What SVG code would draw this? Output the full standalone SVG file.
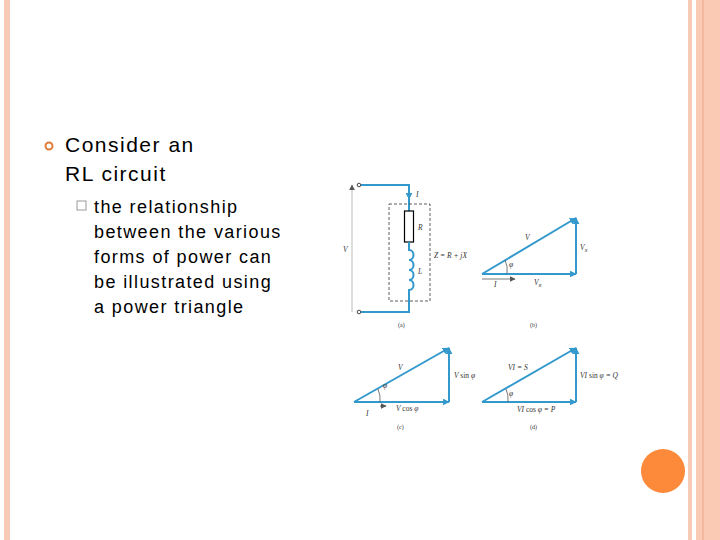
<svg xmlns="http://www.w3.org/2000/svg" width="720" height="540" viewBox="0 0 720 540">
<defs>
<marker id="ah" viewBox="0 0 10 10" refX="9" refY="5" markerWidth="7" markerHeight="7" markerUnits="userSpaceOnUse" orient="auto"><path d="M0,0 L10,5 L0,10 z" fill="#3399cc"/></marker>
<marker id="ag" viewBox="0 0 10 10" refX="9" refY="5" markerWidth="6" markerHeight="6" markerUnits="userSpaceOnUse" orient="auto"><path d="M0,0 L10,5 L0,10 z" fill="#555"/></marker>
</defs>
<style>
.b{stroke:#3399cc;stroke-width:2;fill:none}
.t{font-family:"Liberation Sans",Arial,sans-serif;fill:#000}
.m{font-family:"Liberation Serif",serif;font-style:italic;font-size:7.5px;fill:#333}
.c{font-family:"Liberation Serif",serif;font-size:6px;fill:#333}
</style>
<rect width="720" height="540" fill="#fff"/>
<rect x="4" y="0" width="6" height="540" fill="#f8c9b6"/>
<rect x="688" y="0" width="4" height="540" fill="#f8c9b6"/>
<rect x="696" y="0" width="24" height="540" fill="#fbcab5"/>
<rect x="702" y="0" width="2" height="540" fill="#f3b79e"/>
<circle cx="663" cy="471" r="22" fill="#fd8a3a"/>
<g id="text">
<circle cx="49" cy="146" r="3.5" fill="none" stroke="#e07b39" stroke-width="2"/>
<text class="t" x="65" y="152" font-size="21" letter-spacing="1.5">Consider an</text>
<text class="t" x="65" y="181" font-size="21" letter-spacing="1.5">RL circuit</text>
<rect x="77" y="201" width="9" height="9" fill="none" stroke="#999" stroke-width="1"/>
<text class="t" x="94" y="213" font-size="18" letter-spacing="1.4"><tspan x="94">  the relationship</tspan><tspan x="94" y="238">between the various</tspan><tspan x="94" y="263">forms of power can</tspan><tspan x="94" y="288">be illustrated using</tspan><tspan x="94" y="313">a power triangle</tspan></text>
</g>
<g id="circuit">
<line x1="352" y1="312" x2="352" y2="185" stroke="#bbb" stroke-width="1" marker-end="url(#ag)"/>
<path class="b" d="M361,185 H409 V211"/>
<line class="b" x1="409" y1="185" x2="409" y2="199" marker-end="url(#ah)"/>
<rect x="404.5" y="211" width="9" height="31" fill="#fff" stroke="#000" stroke-width="1.2"/>
<path class="b" d="M409,242 V250 c6,0 6,10 0,10 c6,0 6,10 0,10 c6,0 6,10 0,10 c6,0 6,10 0,10 V312 H361"/>
<circle cx="359" cy="185" r="1.8" fill="#fff" stroke="#444"/>
<circle cx="359" cy="312" r="1.8" fill="#fff" stroke="#444"/>
<rect x="389" y="204" width="41" height="97" fill="none" stroke="#333" stroke-width="0.8" stroke-dasharray="3,2"/>
<text class="m" x="343" y="252">V</text>
<text class="m" x="416" y="197">I</text>
<text class="m" x="418" y="230">R</text>
<text class="m" x="418" y="274">L</text>
<text class="m" x="434" y="258">Z = R + jX</text>
<text class="c" x="398" y="327">(a)</text>
</g>
<g id="connectors">
<line class="b" x1="482" y1="274" x2="576" y2="218" marker-end="url(#ah)"/>
<line class="b" x1="482" y1="274" x2="576" y2="274" marker-end="url(#ah)"/>
<line class="b" x1="576" y1="274" x2="576" y2="218" marker-end="url(#ah)"/>
<line x1="482" y1="279" x2="515" y2="279" stroke="#555" stroke-width="0.8" marker-end="url(#ag)"/>
<path d="M505,260 A24,24 0 0 1 507,274" fill="none" stroke="#555" stroke-width="0.8"/>
<line class="b" x1="354" y1="402" x2="449" y2="348" marker-end="url(#ah)"/>
<line class="b" x1="354" y1="402" x2="449" y2="402" marker-end="url(#ah)"/>
<line class="b" x1="449" y1="402" x2="449" y2="348" marker-end="url(#ah)"/>
<path d="M378,389 A26,26 0 0 1 380,402" fill="none" stroke="#555" stroke-width="0.8"/>
<line x1="380" y1="406" x2="386" y2="406" stroke="#333" stroke-width="0.8" marker-end="url(#ag)"/>
<line class="b" x1="482" y1="402" x2="576" y2="348" marker-end="url(#ah)"/>
<line class="b" x1="482" y1="402" x2="576" y2="402" marker-end="url(#ah)"/>
<line class="b" x1="576" y1="402" x2="576" y2="348" marker-end="url(#ah)"/>
<path d="M506,389 A26,26 0 0 1 508,402" fill="none" stroke="#555" stroke-width="0.8"/>
</g>
<g id="triangle-b">
<text class="m" x="525" y="240">V</text>
<text class="m" x="580" y="250">V<tspan font-size="5" dy="2">X</tspan></text>
<text class="m" x="534" y="285">V<tspan font-size="5" dy="2">R</tspan></text>
<text class="m" x="494" y="287">I</text>
<text class="m" x="509" y="267">φ</text>
<text class="c" x="530" y="327">(b)</text>
</g>
<g id="triangle-c">
<text class="m" x="398" y="370">V</text>
<text class="m" x="454" y="378">V <tspan font-style="normal">sin</tspan> φ</text>
<text class="m" x="383" y="388">φ</text>
<text class="m" x="366" y="416">I</text>
<text class="m" x="396" y="411">V <tspan font-style="normal">cos</tspan> φ</text>
<text class="c" x="397" y="429">(c)</text>
</g>
<g id="triangle-d">
<text class="m" x="508" y="370">VI = S</text>
<text class="m" x="580" y="378">VI <tspan font-style="normal">sin</tspan> φ = Q</text>
<text class="m" x="509" y="396">φ</text>
<text class="m" x="517" y="412">VI <tspan font-style="normal">cos</tspan> φ = P</text>
<text class="c" x="530" y="429">(d)</text>
</g>
</svg>
